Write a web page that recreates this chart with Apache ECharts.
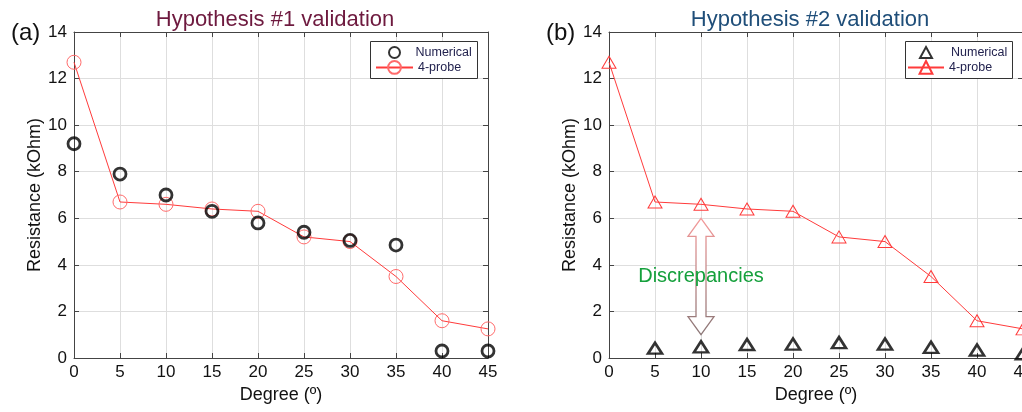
<!DOCTYPE html>
<html>
<head>
<meta charset="utf-8">
<script src="https://cdn.jsdelivr.net/npm/echarts@6/dist/echarts.min.js"></script>
<style>
  html, body { margin: 0; padding: 0; background: #fff; }
  #chart { width: 1022px; height: 412px; }
</style>
</head>
<body>
<div id="chart"></div>
<script>
// Angle of the sample (degrees)
const degrees = [0, 5, 10, 15, 20, 25, 30, 35, 40, 45];
// Hypothesis #1: numerical prediction vs. 4-probe measurement (kOhm)
const numerical1 = [9.2, 7.9, 7.0, 6.3, 5.8, 5.4, 5.05, 4.85, 0.3, 0.3];
const probe1 = [12.7, 6.7, 6.6, 6.4, 6.3, 5.2, 5.0, 3.5, 1.6, 1.25];
// Hypothesis #2: numerical prediction (no value at 0°) vs. 4-probe measurement (kOhm)
const degrees2 = [5, 10, 15, 20, 25, 30, 35, 40, 45];
const numerical2 = [0.42, 0.48, 0.58, 0.6, 0.66, 0.6, 0.46, 0.34, 0.18];
const probe2 = [12.7, 6.7, 6.6, 6.4, 6.3, 5.2, 5.0, 3.5, 1.6, 1.25];
// Gap marker: [degree, upper value, lower value]
const gapArrow = [[10, 6, 1]];
const gapText = 'Discrepancies';

const titles = ['Hypothesis #1 validation', 'Hypothesis #2 validation'];
const panelTags = ['(a)', '(b)'];
const seriesNames = ['Numerical', '4-probe'];
const xName = 'Degree (º)';
const yName = 'Resistance (kOhm)';

const FONT = 'Liberation Sans, Arial, Helvetica, sans-serif';
const RED = '#ff3b3b';
const FRAME = '#444';

const pairs = (xs, ys) => xs.map((x, i) => [x, ys[i]]);
// Series of panel (b) carry a suffix so each legend picks its own marker style
const tagB = ' (b)';
const stripTag = (name) => name.replace(tagB, '');

const grids = [
  { left: 74, top: 32, width: 414, height: 326, outerBoundsMode: 'none' },
  { left: 609, top: 32, width: 414, height: 326, outerBoundsMode: 'none' }
];

const xAxes = [], yAxes = [];
grids.forEach((g, gi) => {
  xAxes.push({
    type: 'value', gridIndex: gi, min: 0, max: 45, interval: 5,
    name: xName, nameLocation: 'middle', nameGap: 28,
    nameTextStyle: { fontFamily: FONT, fontSize: 18, color: '#111' },
    axisLine: { show: true, onZero: false, lineStyle: { color: FRAME, width: 1 } },
    axisTick: { show: true, inside: true, length: 5, lineStyle: { color: FRAME } },
    axisLabel: { fontFamily: FONT, fontSize: 17, color: '#111', margin: 6 },
    splitLine: { show: true, lineStyle: { color: '#dedede', width: 1 } }
  });
  xAxes.push({
    type: 'value', gridIndex: gi, min: 0, max: 45, interval: 5, position: 'top',
    axisLine: { show: true, onZero: false, lineStyle: { color: FRAME, width: 1 } },
    axisTick: { show: true, inside: true, length: 5, lineStyle: { color: FRAME } },
    axisLabel: { show: false }, splitLine: { show: false }
  });
  yAxes.push({
    type: 'value', gridIndex: gi, min: 0, max: 14, interval: 2,
    name: yName, nameLocation: 'middle', nameGap: 25, nameRotate: 90,
    nameTextStyle: { fontFamily: FONT, fontSize: 18, color: '#111' },
    axisLine: { show: true, onZero: false, lineStyle: { color: FRAME, width: 1 } },
    axisTick: { show: true, inside: true, length: 5, lineStyle: { color: FRAME } },
    axisLabel: { fontFamily: FONT, fontSize: 17, color: '#111', margin: 7 },
    splitLine: { show: true, lineStyle: { color: '#dedede', width: 1 } }
  });
  yAxes.push({
    type: 'value', gridIndex: gi, min: 0, max: 14, interval: 2, position: 'right',
    axisLine: { show: true, onZero: false, lineStyle: { color: FRAME, width: 1 } },
    axisTick: { show: true, inside: true, length: 5, lineStyle: { color: FRAME } },
    axisLabel: { show: false }, splitLine: { show: false }
  });
});

const legendText = { fontFamily: FONT, fontSize: 12.5, color: '#23234f' };
function markerLegend(name, left, textPad) {
  return {
    data: [name], left: left, top: 46, padding: 0,
    itemWidth: 12, itemHeight: 11, selectedMode: false,
    formatter: stripTag,
    textStyle: Object.assign({ padding: [0, 0, 0, textPad] }, legendText)
  };
}
function lineLegend(name, left, width) {
  return {
    data: [name], left: left, top: 60, padding: 0,
    itemWidth: width, itemHeight: 16, selectedMode: false,
    formatter: stripTag,
    textStyle: Object.assign({}, legendText)
  };
}
function legendFrame(left) {
  return {
    type: 'rect', left: left, top: 41, z: 3,
    shape: { width: 107, height: 37 },
    style: { fill: '#fff', stroke: '#333', lineWidth: 1 }
  };
}

const option = {
  animation: false,
  backgroundColor: '#fff',
  grid: grids,
  xAxis: xAxes,
  yAxis: yAxes,
  title: [
    { text: titles[0], left: 270, top: 4, textAlign: 'center',
      textStyle: { fontFamily: FONT, fontSize: 22, fontWeight: 'normal', color: '#6e1a3f' } },
    { text: titles[1], left: 805, top: 4, textAlign: 'center',
      textStyle: { fontFamily: FONT, fontSize: 22, fontWeight: 'normal', color: '#1f4e79' } },
    { text: panelTags[0], left: 6, top: 16,
      textStyle: { fontFamily: FONT, fontSize: 24, fontWeight: 'normal', color: '#111' } },
    { text: panelTags[1], left: 541, top: 16,
      textStyle: { fontFamily: FONT, fontSize: 24, fontWeight: 'normal', color: '#111' } }
  ],
  graphic: [legendFrame(370), legendFrame(905)],
  legend: [
    markerLegend(seriesNames[0], 388, 10),
    lineLegend(seriesNames[1], 375, 37),
    markerLegend(seriesNames[0] + tagB, 919, 14),
    lineLegend(seriesNames[1] + tagB, 907, 36)
  ],
  series: [
    {
      name: seriesNames[1], type: 'line', xAxisIndex: 0, yAxisIndex: 0,
      data: pairs(degrees, probe1), symbol: 'circle', symbolSize: 14,
      lineStyle: { color: RED, width: 1 },
      itemStyle: { color: 'rgba(255,255,255,0)', borderColor: '#ff6b6b', borderWidth: 1 },
      z: 3
    },
    {
      name: seriesNames[0], type: 'scatter', xAxisIndex: 0, yAxisIndex: 0,
      data: pairs(degrees, numerical1), symbol: 'circle', symbolSize: 12,
      itemStyle: { color: 'rgba(255,255,255,0)', borderColor: '#000', borderWidth: 2.8 },
      z: 4
    },
    {
      name: seriesNames[1] + tagB, type: 'line', xAxisIndex: 2, yAxisIndex: 2,
      data: pairs(degrees, probe2), symbol: 'triangle', symbolSize: [14, 12],
      lineStyle: { color: RED, width: 1 },
      itemStyle: { color: 'rgba(255,255,255,0)', borderColor: RED, borderWidth: 1 },
      z: 3
    },
    {
      name: seriesNames[0] + tagB, type: 'scatter', xAxisIndex: 2, yAxisIndex: 2,
      data: pairs(degrees2, numerical2), symbol: 'triangle', symbolSize: [14, 11],
      itemStyle: { color: 'rgba(255,255,255,0)', borderColor: '#000', borderWidth: 2.6 },
      z: 4
    },
    {
      type: 'custom', xAxisIndex: 2, yAxisIndex: 2, z: 5, silent: true,
      data: gapArrow,
      renderItem: function (params, api) {
        const top = api.coord([api.value(0), api.value(1)]);
        const bot = api.coord([api.value(0), api.value(2)]);
        const cx = top[0];
        const headH = 18, headW = 13, shaftW = 5;
        const pts = [
          [cx, top[1]],
          [cx + headW, top[1] + headH],
          [cx + shaftW, top[1] + headH],
          [cx + shaftW, bot[1] - headH],
          [cx + headW, bot[1] - headH],
          [cx, bot[1]],
          [cx - headW, bot[1] - headH],
          [cx - shaftW, bot[1] - headH],
          [cx - shaftW, top[1] + headH],
          [cx - headW, top[1] + headH]
        ];
        const mid = api.coord([api.value(0), (api.value(1) + api.value(2)) / 2]);
        return {
          type: 'group',
          children: [
            {
              type: 'polygon',
              shape: { points: pts },
              style: {
                fill: '#fff',
                lineWidth: 1.3,
                stroke: new echarts.graphic.LinearGradient(0, 0, 0, 1, [
                  { offset: 0, color: '#f59a9a' },
                  { offset: 1, color: '#8a7676' }
                ])
              }
            },
            {
              type: 'text',
              x: mid[0], y: mid[1],
              style: {
                text: gapText, fill: '#15a03c',
                font: '20px ' + FONT,
                align: 'center', verticalAlign: 'middle'
              }
            }
          ]
        };
      }
    }
  ]
};

const chart = echarts.init(document.getElementById('chart'), null, { renderer: 'canvas' });
chart.setOption(option);
</script>
</body>
</html>
